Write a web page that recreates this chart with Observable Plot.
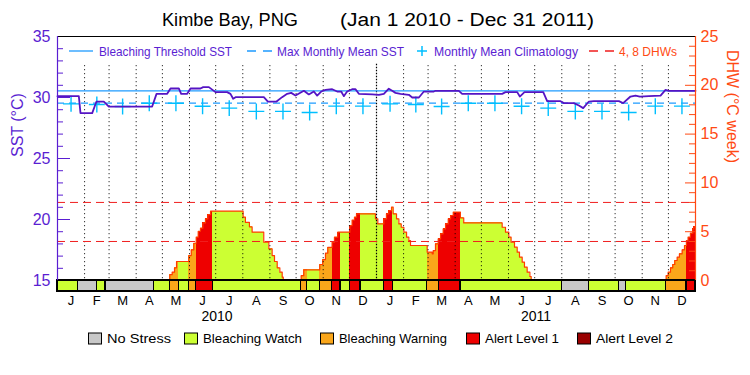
<!DOCTYPE html>
<html><head><meta charset="utf-8">
<script src="https://cdn.jsdelivr.net/npm/d3@7"></script>
<script src="https://cdn.jsdelivr.net/npm/@observablehq/plot@0.6"></script>
<style>
body{margin:0;background:#fff;font-family:"Liberation Sans",Arial,sans-serif;}
#wrap{position:relative;width:750px;height:375px;overflow:hidden;background:#fff;}
#wrap svg{position:absolute;left:0;top:0;}
</style></head><body><div id="wrap"></div>
<script>
// ---------------- DATA ----------------
const titleText = "Kimbe Bay, PNG";
const periodText = "(Jan 1 2010 - Dec 31 2011)";
const monthLetters = ["J","F","M","A","M","J","J","A","S","O","N","D"];
const years = [2010, 2011];
const sstTicks = [15, 20, 25, 30, 35];
const dhwTicks = [0, 5, 10, 15, 20, 25];
const climatology = [29.48, 29.43, 29.26, 29.53, 29.53, 29.28, 29.13, 28.86, 28.86, 28.77, 29.29, 29.29];
const maxMonthlyMean = 29.54;
const bleachingThreshold = 30.55;
const dhwRefLevels = [4, 8];
// SST: day offset from Jan 1 2010, value (°C)
const sstDay = [0,24.4,26.3,39.7,44.6,53,58.7,108.3,113.3,125.5,129.3,138.8,141.5,148.4,152.2,163.6,166.7,173.2,180.8,194.1,197.9,201,203.7,236.1,240.7,250.6,257,262.8,267.4,272.3,281.9,287.6,293.3,297.1,301.7,306.6,314.3,320,324.6,327.6,331.4,337.1,341,344.8,360,367.7,373.4,379.1,382.9,386.7,392.4,402,405.9,413.5,419.2,430.6,432.5,459.2,463,508.8,512.6,526,529,534.3,555.8,560.3,575.6,579.4,590.8,596.6,601.5,608,613.7,642.3,647.2,655.6,661.4,666.3,676.6,690,695.7,699.5,730];
const sstValue = [30.11,30.11,28.72,28.72,29.67,29.67,29.26,29.26,30.30,30.30,30.74,30.74,30.30,30.30,30.74,30.74,30.85,30.85,30.44,30.44,30.30,29.90,30.03,30.03,29.67,29.67,30.03,30.30,30.38,30.16,30.55,30.25,30.49,30.16,30.49,30.63,30.68,30.49,30.49,30.11,30.49,30.68,30.68,30.30,30.25,30.22,30.30,30.72,30.55,30.38,30.30,30.22,30.0,30.0,30.49,30.49,30.55,30.55,30.30,30.30,30.44,30.44,30.08,30.44,30.44,29.70,29.70,29.54,29.54,29.34,29.13,29.67,29.70,29.70,29.54,30.08,30.16,30.08,30.11,30.16,30.63,30.55,30.55];
// DHW (°C-weeks): step values starting at each day offset
const dhwDay = [0,128.5,131.2,133.9,136.2,150.3,153,156,158.7,161,163.6,166.3,169.3,172,175.1,212.4,215,219.6,222.7,236,241.8,245.6,248.3,251.4,254.4,257.1,258.3,
  278.8,281.8,300.1,303.5,306.6,309.3,314.2,316.9,320.7,334.5,337.1,339.8,342.1,363.8,366.5,373.4,376.4,379.1,382.2,384.1,387.9,390.6,393.3,396.3,399.4,402,403.9,423,428.7,429.9,432.5,435.6,438.3,441.3,444,447.1,449.8,452.8,461,464.8,508.8,512.6,516.4,519,522.9,526,528.6,531.7,534.3,537.4,540.5,542,
  696.4,698.7,701.4,704,706.3,709,711.6,714.7,717.4,719.6,721.5,724.2,726.9,728];
const dhwValue = [0,0.6,0.85,1.3,1.95,2.56,3.14,3.82,4.44,5.05,5.36,5.9,6.32,6.76,7.1,6.5,5.95,5.5,4.95,3.93,3.25,2.56,1.95,1.3,0.85,0.34,0,
  0.5,1.1,1.64,2.15,2.8,3.4,3.93,4.44,4.95,5.63,6.2,6.49,6.83,6.32,5.8,6.32,6.83,7.17,7.51,6.83,6.32,5.8,5.46,4.95,4.44,4.1,3.59,2.9,2.74,3.07,3.76,4.27,4.78,5.29,5.8,6.32,6.66,7.0,6.42,5.9,5.46,4.95,4.44,3.93,3.42,2.9,2.39,1.88,1.37,0.85,0.41,0,
  0.5,0.85,1.3,1.64,2.05,2.39,2.73,3.14,3.59,4.1,4.44,4.85,5.29,5.5];
// Stress level segments: start day, level (0 none,1 watch,2 warning,3 alert1,4 alert2)
const stressStart = [0,23.2,45.4,54.9,110.2,128.5,138.8,150.2,158.7,177.7,278.8,285.7,300.1,314.3,323.8,334.4,346.7,373.3,383.6,423,436.3,461,577.5,607.9,642.2,650.7,696.5,719.7];
const stressLevel = [1,0,1,0,1,2,1,2,3,1,2,1,2,3,1,3,1,3,1,2,3,1,0,1,0,1,2,3];
const stressNames = ["No Stress","Bleaching Watch","Bleaching Warning","Alert Level 1","Alert Level 2"];
const totalDays = 730;

// ---------------- STYLES ----------------
const C = {
  purple: "#5a1ed2", sstLine: "#5514c4", orange: "#ff4a14", thresh: "#1e9bff",
  clim: "#00bfff", dhwRef: "#f01e1e", outline: "#ff3c00",
  stress: ["#c8c8c8", "#ccff33", "#faa61a", "#ee0000", "#990000"]
};
const font = "'Liberation Sans', Arial, sans-serif";

// ---------------- HELPERS ----------------
const t0 = Date.UTC(2010, 0, 1);
const toDate = d => new Date(t0 + d * 864e5);
const dhwToSst = v => 15 + v * 0.8;
const yBottom = 14.1;
const plotW = 750 - 57 - 55;

const sstData = sstDay.map((d, i) => ({date: toDate(d), v: sstValue[i]}));
const segs = stressStart.map((s, i) => ({s, e: i < stressStart.length - 1 ? stressStart[i + 1] : totalDays, level: stressLevel[i]}));
const pieces = [];
for (const seg of segs) {
  for (let i = 0; i < dhwDay.length; i++) {
    const a = dhwDay[i], b = i < dhwDay.length - 1 ? dhwDay[i + 1] : totalDays;
    const lo = Math.max(a, seg.s), hi = Math.min(b, seg.e);
    if (hi > lo && dhwValue[i] > 0) pieces.push({x1: toDate(lo), x2: toDate(hi), v: dhwValue[i], level: seg.level});
  }
}
const outline = dhwDay.map((d, i) => ({date: toDate(d), v: dhwValue[i]}));
outline.push({date: toDate(totalDays), v: dhwValue[dhwValue.length - 1]});

const monthStarts = [];
const monthMids = [];
for (const y of years) for (let m = 0; m < 12; m++) {
  const a = Date.UTC(y, m, 1), b = Date.UTC(y, m + 1, 1);
  monthStarts.push(new Date(a));
  monthMids.push(new Date((a + b) / 2));
}
const gridLines = monthStarts.filter(d => !(d.getUTCMonth() === 0));
const yearLines = monthStarts.filter(d => d.getUTCMonth() === 0 && d.getUTCFullYear() > years[0]);
const yearMids = years.map(y => new Date((Date.UTC(y, 0, 1) + Date.UTC(y + 1, 0, 1)) / 2));
const climData = monthMids.map((d, i) => ({date: d, v: climatology[i % 12]}));

const sstMinor = d3.range(15, 36).filter(v => v % 5 !== 0);
const dhwMinor = d3.range(0, 26).filter(v => v % 5 !== 0).map(dhwToSst);
const dhwMajor = dhwTicks.map(dhwToSst);

const plot = Plot.plot({
  width: 750, height: 375,
  marginTop: 36, marginBottom: 84, marginLeft: 57, marginRight: 55,
  x: {type: "utc", domain: [toDate(0), toDate(totalDays)], axis: null},
  y: {domain: [yBottom, 35], axis: null},
  style: {fontFamily: font, fontSize: "12px", background: "transparent", overflow: "visible"},
  marks: [
    // DHW filled area coloured by stress level
    Plot.rect(pieces, {x1: "x1", x2: "x2", y1: 15, y2: d => dhwToSst(d.v), fill: d => C.stress[d.level], shapeRendering: "crispEdges"}),
    Plot.line(outline, {x: "date", y: d => dhwToSst(d.v), curve: "step-after", stroke: C.outline, strokeWidth: 1.2}),
    // month grid
    Plot.ruleX(gridLines, {x: d => d, y1: 15.15, y2: 32.8, stroke: "#000", strokeWidth: 1, strokeDasharray: "1,3"}),
    Plot.ruleX(yearLines, {x: d => d, y1: 15.15, y2: 32.8, stroke: "#000", strokeWidth: 1.2, strokeDasharray: "1.5,1.5"}),
    // DHW reference lines
    Plot.ruleY(dhwRefLevels.map(dhwToSst), {y: d => d, stroke: C.dhwRef, strokeWidth: 1, strokeDasharray: "8,5"}),
    // threshold & MMM
    Plot.ruleY([bleachingThreshold], {y: d => d, stroke: C.thresh, strokeWidth: 1.3}),
    Plot.ruleY([maxMonthlyMean], {y: d => d, stroke: C.thresh, strokeWidth: 1.2, strokeDasharray: "7,5"}),
    // climatology
    Plot.dot(climData, {x: "date", y: "v", symbol: "plus", r: 5.2, stroke: C.clim, strokeWidth: 1.4}),
    // SST
    Plot.line(sstData, {x: "date", y: "v", stroke: C.sstLine, strokeWidth: 1.8}),
    // stress bar
    Plot.rect(segs, {x1: d => toDate(d.s), x2: d => toDate(d.e), y1: yBottom, y2: 15, fill: d => C.stress[d.level], stroke: "#000", strokeWidth: 1.2, shapeRendering: "crispEdges"}),
    // frame
    Plot.ruleY([35], {y: d => d, stroke: "#000", strokeWidth: 1.2}),
    Plot.ruleY([yBottom], {y: d => d, stroke: "#000", strokeWidth: 1.2}),
    Plot.ruleX([toDate(0)], {x: d => d, y1: 15, y2: 35, stroke: C.purple, strokeWidth: 1.2}),
    Plot.ruleX([toDate(totalDays)], {x: d => d, y1: 15, y2: 35, stroke: C.orange, strokeWidth: 1.2}),
    // left ticks
    Plot.tickY(sstMinor, {y: d => d, stroke: C.purple, insetRight: plotW - 6}),
    Plot.tickY(sstTicks.slice(1, -1), {y: d => d, stroke: C.purple, insetRight: plotW - 13}),
    // right ticks
    Plot.tickY(dhwMinor, {y: d => d, stroke: C.orange, insetLeft: plotW - 6}),
    Plot.tickY(dhwMajor.slice(1, -1), {y: d => d, stroke: C.orange, insetLeft: plotW - 10}),
    // axes labels
    Plot.axisY(sstTicks, {anchor: "left", tickSize: 0, tickPadding: 7, fontSize: 16, color: C.purple, label: null}),
    Plot.axisY(dhwMajor, {anchor: "right", tickSize: 0, tickPadding: 5, fontSize: 16, color: C.orange, label: null,
      tickFormat: d => String(Math.round((d - 15) / 0.8))}),
    Plot.axisX(monthMids, {anchor: "bottom", tickSize: 0, tickPadding: 4, fontSize: 13, color: "#000", label: null,
      tickFormat: d => monthLetters[d.getUTCMonth()]}),
    Plot.axisX(yearMids, {anchor: "bottom", tickSize: 0, tickPadding: 20, fontSize: 14, color: "#000", label: null,
      tickFormat: d => String(d.getUTCFullYear())}),
    Plot.text(["SST (°C)"], {text: d => d, frameAnchor: "left", dx: -40, dy: -7, rotate: -90, fontSize: 16, fill: C.purple}),
    Plot.text(["DHW (°C week)"], {text: d => d, frameAnchor: "right", dx: 37, dy: -1, rotate: 90, fontSize: 16, fill: C.orange})
  ]
});
const wrap = document.getElementById("wrap");
wrap.appendChild(plot);

// ---------------- OVERLAY: title and legends ----------------
const ov = d3.select(wrap).append("svg").attr("width", 750).attr("height", 375)
  .style("font-family", font).style("pointer-events", "none");
function txt(x, y, s, size, fill, len) {
  const t = ov.append("text").attr("x", x).attr("y", y).attr("dominant-baseline", "central")
    .attr("font-size", size).attr("fill", fill).text(s);
  if (len) t.attr("textLength", len).attr("lengthAdjust", "spacingAndGlyphs");
  return t;
}
txt(162, 20, titleText, 18, "#000", 136);
txt(340, 20, periodText, 18, "#000", 254);

// inner legend
const ly = 51;
ov.append("line").attr("x1", 69).attr("x2", 93).attr("y1", ly).attr("y2", ly).attr("stroke", C.thresh).attr("stroke-width", 1.3);
txt(99, ly, "Bleaching Threshold SST", 13, C.purple, 133);
ov.append("line").attr("x1", 247).attr("x2", 273).attr("y1", ly).attr("y2", ly).attr("stroke", C.thresh).attr("stroke-width", 1.3).attr("stroke-dasharray", "9,7");
txt(277, ly, "Max Monthly Mean SST", 13, C.purple, 127);
ov.append("path").attr("d", `M417,${ly}h10M422,${ly - 5}v10`).attr("stroke", C.clim).attr("stroke-width", 1.5);
txt(434, ly, "Monthly Mean Climatology", 13, C.purple, 144);
ov.append("line").attr("x1", 589).attr("x2", 614).attr("y1", ly).attr("y2", ly).attr("stroke", C.dhwRef).attr("stroke-width", 1.3).attr("stroke-dasharray", "9,7");
txt(619, ly, "4, 8 DHWs", 13, C.orange, 58);

// stress legend
const boxX = [88, 184, 320, 466, 577];
const textLen = [64, 99, 108, 74, 77];
const by = 338.5;
stressNames.forEach((name, i) => {
  ov.append("rect").attr("x", boxX[i] + 0.5).attr("y", by - 5.5).attr("width", 13).attr("height", 11)
    .attr("fill", C.stress[i]).attr("stroke", "#000").attr("stroke-width", 1);
  txt(boxX[i] + 19, by, name, 13, "#000", textLen[i]);
});
</script></body></html>
